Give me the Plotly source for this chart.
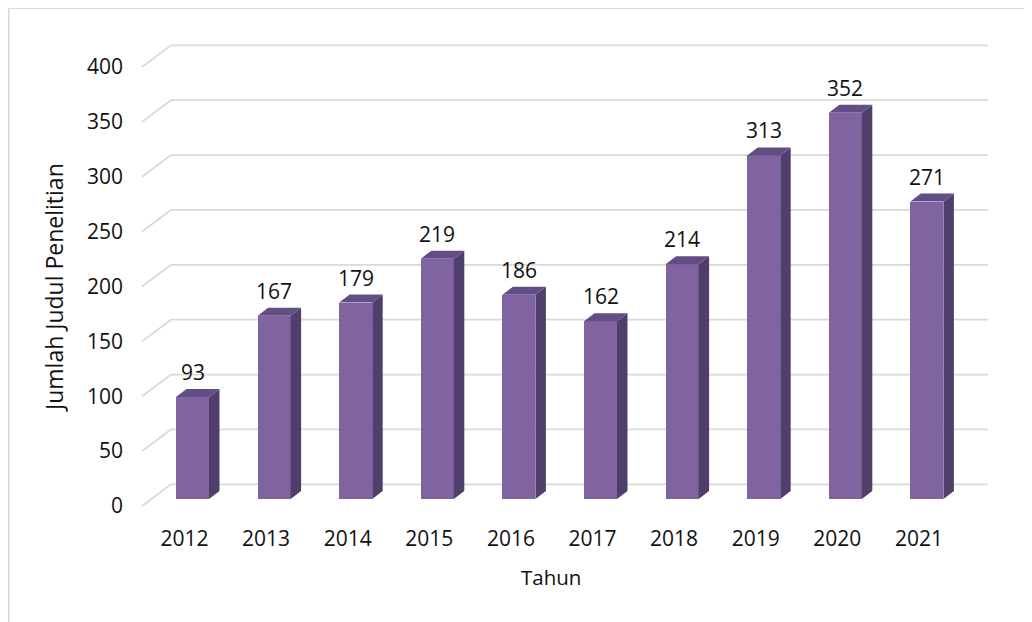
import plotly.graph_objects as go

years = ["2012", "2013", "2014", "2015", "2016", "2017", "2018", "2019", "2020", "2021"]
counts = [93, 167, 179, 219, 186, 162, 214, 313, 352, 271]
y_ticks = [0, 50, 100, 150, 200, 250, 300, 350, 400]

# ---- layout geometry (page pixels; the page body adds an 8px offset) ----
OFF = 8
W, H = 1032 - OFF, 622 - OFF
PL, PR, PT, PB = 140, 990, 42, 510      # plot area in page pixels
ML, MR, MT, MB = PL - OFF, W - (PR - OFF), PT - OFF, H - (PB - OFF)
XU = 81.6          # px per category
YU = 1.0975        # px per value unit
X0_PX = 192.5      # page x of first category (bar plane)
Y0_PX = 499.0      # page y of value 0 (bar plane)

def xu(px):
    return (px - X0_PX) / XU

def yu(px):
    return (Y0_PX - px) / YU

x_range = [xu(PL), xu(PR)]
y_range = [yu(PB), yu(PT)]

# 3D offsets
BAR_W = 33 / XU
DDX = 10.5 / XU
DDY = 8 / YU
GRID_FRONT_X = xu(142)
GRID_BACK_X = xu(171)
GRID_RIGHT_X = xu(988)
GRID_FRONT_DY = yu(506)
GRID_BACK_DY = yu(484.3)

FRONT = "#8064A2"
SIDE = "#4F3F6A"
TOP = "#634D85"
GRID = "#D9D9D9"
TXT = "#111111"
FONT = "Open Sans"

xs = list(range(len(years)))

fig = go.Figure()

# front faces
fig.add_trace(go.Bar(x=xs, y=counts, width=BAR_W, marker=dict(color=FRONT, line=dict(width=0)),
                     hoverinfo="skip", showlegend=False))

# side faces
sx, sy = [], []
for i, v in zip(xs, counts):
    xr = i + BAR_W / 2
    sx += [xr, xr + DDX, xr + DDX, xr, xr, None]
    sy += [0, DDY, v + DDY, v, 0, None]
fig.add_trace(go.Scatter(x=sx, y=sy, fill="toself", fillcolor=SIDE, mode="lines",
                         line=dict(width=0, color=SIDE), hoverinfo="skip", showlegend=False))

# top faces
tx, ty = [], []
for i, v in zip(xs, counts):
    xl = i - BAR_W / 2
    xr = i + BAR_W / 2
    tx += [xl, xr, xr + DDX, xl + DDX, xl, None]
    ty += [v, v, v + DDY, v + DDY, v, None]
fig.add_trace(go.Scatter(x=tx, y=ty, fill="toself", fillcolor=TOP, mode="lines",
                         line=dict(width=0, color=TOP), hoverinfo="skip", showlegend=False))

# gridlines (back wall + slanted floor connectors)
shapes = []
for t in y_ticks:
    path = (f"M {GRID_FRONT_X},{t + GRID_FRONT_DY} L {GRID_BACK_X},{t + GRID_BACK_DY} "
            f"L {GRID_RIGHT_X},{t + GRID_BACK_DY}")
    shapes.append(dict(type="path", path=path, xref="x", yref="y", layer="below",
                       line=dict(color=GRID, width=1.8)))

pw = W - ML - MR
ph = H - MT - MB

def xp(px):
    return (px - OFF - ML) / pw

def yp(py):
    return (H - MB - (py - OFF)) / ph

# chart border (top and left)
shapes.append(dict(type="path", xref="paper", yref="paper",
                   path=f"M {xp(8.8)},{yp(H + 20)} L {xp(8.8)},{yp(8.2)} L {xp(W + 20)},{yp(8.2)}",
                   line=dict(color=GRID, width=1.6)))

annotations = []
for i, v in zip(xs, counts):
    annotations.append(dict(x=i, y=v + DDY, xref="x", yref="y", text=str(v), showarrow=False,
                            yanchor="bottom", yshift=1, font=dict(size=21, color=TXT, family=FONT)))

annotations.append(dict(x=xp(551), y=yp(593), xref="paper", yref="paper", text="Tahun",
                        showarrow=False, font=dict(size=20.5, color=TXT, family=FONT)))
annotations.append(dict(x=xp(36), y=yp(288), xref="paper", yref="paper", text="Jumlah Judul Penelitian",
                        textangle=-90, showarrow=False, font=dict(size=23, color=TXT, family=FONT)))

fig.update_layout(
    width=W, height=H,
    margin=dict(l=ML, r=MR, t=MT, b=MB, pad=0),
    paper_bgcolor="white", plot_bgcolor="white",
    shapes=shapes, annotations=annotations,
    font=dict(family=FONT, size=21, color=TXT),
    xaxis=dict(range=x_range, tickmode="array", tickvals=xs, ticktext=years, showgrid=False,
               zeroline=False, showline=False, ticks="", ticklabelstandoff=14, ticklabelshift=-8,
               tickfont=dict(size=21, color=TXT, family=FONT), fixedrange=True),
    yaxis=dict(range=y_range, tickmode="array", tickvals=[t + GRID_FRONT_DY for t in y_ticks],
               ticktext=[str(t) for t in y_ticks], showgrid=False, zeroline=False, showline=False,
               ticks="", ticklabelstandoff=16, tickfont=dict(size=21, color=TXT, family=FONT),
               fixedrange=True),
    bargap=0,
)

fig.write_html("out.html")
